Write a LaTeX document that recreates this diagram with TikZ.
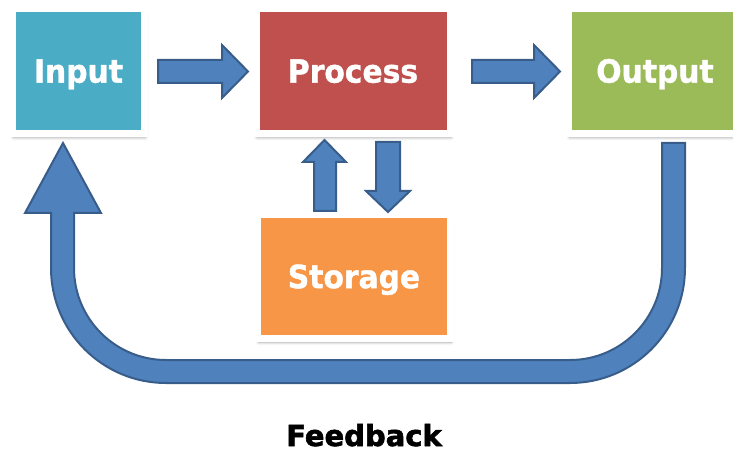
\documentclass[tikz,border=0pt]{standalone}
\usepackage{fontspec}
\setmainfont{DejaVu Sans}
\newfontfamily\boxfont{DejaVu Sans}[FakeStretch=0.93,FakeBold=1.2]
\newfontfamily\fbfont{DejaVu Sans}[FakeBold=2]
\usetikzlibrary{shadows.blur}
\definecolor{inputc}{HTML}{4BACC6}
\definecolor{procc}{HTML}{C0504D}
\definecolor{outc}{HTML}{9BBB59}
\definecolor{storc}{HTML}{F79646}
\definecolor{arrowblue}{HTML}{4F81BD}
\definecolor{arrowedge}{HTML}{385D8A}
\begin{document}
\begin{tikzpicture}[x=1pt,y=1pt]
\useasboundingbox (0,0) rectangle (733,-454);
\tikzset{
 blk/.style={draw=white, line width=7pt, blur shadow={shadow xshift=1pt, shadow yshift=-4pt, shadow blur radius=3pt, shadow opacity=35}, text=white, font=\boxfont\bfseries\fontsize{32}{36}\selectfont, text height=23.3pt, text depth=0pt, inner sep=0pt},
 barrow/.style={fill=arrowblue, draw=arrowedge, line width=2pt, line join=miter}
}
\node[blk, fill=inputc, minimum width=132pt, minimum height=125pt] (input) at (78.5,-71) {Input};
\node[blk, fill=procc, minimum width=194pt, minimum height=125pt] (process) at (353,-71) {Process};
\node[blk, fill=outc, minimum width=173pt, minimum height=125pt] (output) at (655,-71) {Output};
\node[blk, fill=storc, minimum width=192.5pt, minimum height=123.5pt] (storage) at (354,-276.5) {Storage};
\node[font=\fbfont\bfseries\fontsize{29}{34}\selectfont, inner sep=0pt, text depth=0pt, anchor=base] (fb) at (364,-446) {Feedback};
% input -> process
\draw[barrow] (158,-60) -- (222,-60) -- (222,-45) -- (248,-71.5) -- (222,-98) -- (222,-83) -- (158,-83) -- cycle;
% process -> output
\draw[barrow] (472,-60) -- (534,-60) -- (534,-45) -- (560,-71.5) -- (534,-98) -- (534,-83) -- (472,-83) -- cycle;
% storage -> process (up)
\draw[barrow] (314,-211) -- (314,-162) -- (303,-162) -- (324.5,-140) -- (346,-162) -- (336,-162) -- (336,-211) -- cycle;
% process -> storage (down)
\draw[barrow] (376,-142) -- (400,-142) -- (400,-191) -- (410,-191) -- (388,-212) -- (366,-191) -- (376,-191) -- cycle;
% feedback
\draw[barrow] (662,-143) -- (685,-143) -- (685,-268) arc[start angle=0, end angle=-90, radius=115]
  -- (166,-383) arc[start angle=270, end angle=180, radius=115]
  -- (51,-213) -- (25,-213) -- (63,-143) -- (101,-213) -- (74,-213) -- (74,-268)
  arc[start angle=180, end angle=270, radius=92] -- (570,-360)
  arc[start angle=-90, end angle=0, radius=92] -- cycle;
\end{tikzpicture}
\end{document}
